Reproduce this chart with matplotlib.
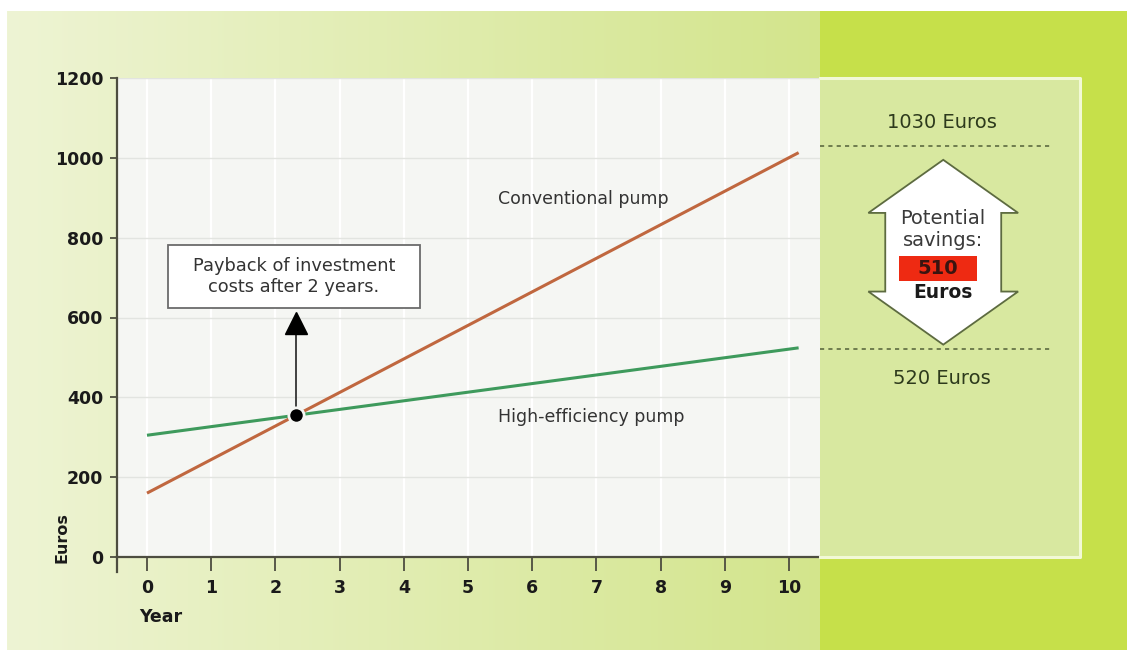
"""
Running costs: conventional vs high-efficiency circulation pump
"""

import numpy as np
import matplotlib.pyplot as plt
from matplotlib.patches import Rectangle, Polygon

plt.rcParams['font.family'] = ['DejaVu Sans']

# Cumulative cost (Euros) over the years, straight lines read at both ends
years = [0, 10.15]
conventional = [160, 1013]
high_efficiency = [305, 524]

year_ticks = list(range(0, 11))
euro_ticks = list(range(0, 1201, 200))

# Figures quoted on the right-hand panel
cost_conventional_10y = 1030
cost_efficient_10y = 520
savings = cost_conventional_10y - cost_efficient_10y

W, H = 1127, 653
fig = plt.figure(figsize=(W / 100, H / 100), dpi=100)

# --- background: pale green gradient, lime band on the right, white margins
bg = fig.add_axes([0, 0, 1, 1], zorder=-10)
img = np.ones((H, W, 3))
left_col = np.array([238, 244, 212]) / 255
right_col = np.array([211, 229, 140]) / 255
lime = np.array([198, 224, 74]) / 255
t = np.clip((np.arange(W) - 7) / (820 - 7), 0, 1)[:, None]
grad = left_col * (1 - t) + right_col * t
img[:, :, :] = grad[None, :, :]
img[:, 820:, :] = lime
img[:11, :, :] = 1
img[650:, :, :] = 1
img[:, :7, :] = 1
bg.imshow(img, extent=(0, W, H, 0), aspect='auto', interpolation='bilinear')
bg.set_xlim(0, W)
bg.set_ylim(H, 0)
bg.axis('off')

# --- main chart
ax = fig.add_axes([117 / W, (H - 557) / H, (820 - 117) / W, (557 - 78) / H])
ax.set_facecolor('#f5f6f3')
ax.set_xlim(-0.467, 10.483)
ax.set_ylim(0, 1200)

ax.set_xticks(year_ticks)
ax.set_yticks(euro_ticks)
for lab in ax.get_xticklabels() + ax.get_yticklabels():
    lab.set_fontweight('bold')
ax.tick_params(axis='y', direction='out', length=5, width=1.3, pad=5,
               labelsize=12.5, colors='#4d4d40', labelcolor='#1a1a1a')
ax.tick_params(axis='x', direction='out', length=10, width=1.3, pad=6,
               labelsize=12.5, colors='#4d4d40', labelcolor='#1a1a1a')

for side in ['top', 'right']:
    ax.spines[side].set_visible(False)
for side in ['left', 'bottom']:
    ax.spines[side].set_color('#4d4d40')
    ax.spines[side].set_linewidth(1.6)
# y axis runs a little below zero
ax.plot([0, 0], [0, -15 / 479], transform=ax.transAxes, color='#4d4d40',
        lw=1.6, clip_on=False)

ax.grid(axis='y', color='#e2e4e0', lw=1.0)
ax.grid(axis='x', color='white', lw=1.6)
ax.set_axisbelow(True)

ax.plot(years, conventional, color='#c0673f', lw=2.2, solid_capstyle='butt', zorder=3)
ax.plot(years, high_efficiency, color='#3e9a5c', lw=2.2, solid_capstyle='butt', zorder=3)

ax.text(6.79, 896, 'Conventional pump', ha='center', va='center',
        fontsize=12.5, color='#333333')
ax.text(6.92, 350, 'High-efficiency pump', ha='center', va='center',
        fontsize=12.5, color='#333333')

# payback point = where both cost lines cross
k_c = (conventional[1] - conventional[0]) / (years[1] - years[0])
k_e = (high_efficiency[1] - high_efficiency[0]) / (years[1] - years[0])
x_pay = (high_efficiency[0] - conventional[0]) / (k_c - k_e)
y_pay = conventional[0] + k_c * x_pay

ax.plot([x_pay, x_pay], [y_pay, 560], color='#333333', lw=1.3, zorder=4)
ax.plot(x_pay, 586, marker='^', markersize=16, color='black', zorder=5)
ax.plot(x_pay, y_pay, 'o', markersize=11, color='black',
        markeredgecolor='#f5f6f3', markeredgewidth=2, zorder=6)

ax.add_patch(Rectangle((0.327, 623), 4.25 - 0.327, 781 - 623, facecolor='white',
                       edgecolor='#6b6b6b', lw=1.3, zorder=5))
ax.text(2.29, 702, 'Payback of investment\ncosts after 2 years.', ha='center',
        va='center', fontsize=12.8, color='#333333', linespacing=1.2, zorder=6)

fig.text(161 / W, 1 - 617 / H, 'Year', ha='center', va='center',
         fontsize=12.5, fontweight='bold', color='#1a1a1a')
fig.text(62 / W, 1 - 538 / H, 'Euros', ha='center', va='center', rotation=90,
         fontsize=11.5, fontweight='bold', color='#1a1a1a')

# --- right-hand savings panel, same euro scale as the chart
ax2 = fig.add_axes([820 / W, (H - 557) / H, (1080 - 820) / W, (557 - 78) / H])
ax2.set_xlim(0, 1)
ax2.set_ylim(0, 1200)
ax2.axis('off')
ax2.add_patch(Rectangle((0, 0), 1, 1200, facecolor='#d8e8a0', edgecolor='none'))
ax2.plot([0, 1, 1, 0], [1200, 1200, 0, 0], color='#f2f9d6', lw=2.2,
         clip_on=False)

for val in (cost_conventional_10y, cost_efficient_10y):
    ax2.plot([0, 0.885], [val, val], color='#5d6b40', lw=1.2,
             dashes=(2.5, 2.5), zorder=3)

ax2.annotate(f'{cost_conventional_10y} Euros', (0.47, cost_conventional_10y),
             xytext=(0, 17), textcoords='offset points', ha='center', va='center',
             fontsize=14, color='#2d3a1c')
ax2.annotate(f'{cost_efficient_10y} Euros', (0.47, cost_efficient_10y),
             xytext=(0, -21), textcoords='offset points', ha='center', va='center',
             fontsize=14, color='#2d3a1c')

# double-headed block arrow between the two cost levels
top = cost_conventional_10y - 35
bot = cost_efficient_10y + 12
head = 133
cx, hw, sw = 0.474, 0.288, 0.223
arrow = [(cx, top), (cx + hw, top - head), (cx + sw, top - head),
         (cx + sw, bot + head), (cx + hw, bot + head), (cx, bot),
         (cx - hw, bot + head), (cx - sw, bot + head), (cx - sw, top - head),
         (cx - hw, top - head)]
ax2.add_patch(Polygon(arrow, closed=True, facecolor='white',
                      edgecolor='#5d6b40', lw=1.3, zorder=4))

ax2.text(cx, 848, 'Potential', ha='center', va='center', fontsize=14,
         color='#3a3a3a', zorder=5)
ax2.text(cx, 793, 'savings:', ha='center', va='center', fontsize=14,
         color='#3a3a3a', zorder=5)
ax2.add_patch(Rectangle((0.304, 691), 0.30, 63, facecolor='#ee2a12',
                        edgecolor='none', zorder=5))
ax2.text(cx - 0.02, 722, f'{savings}', ha='center', va='center', fontsize=14,
         fontweight='bold', color='#3a1410', zorder=6)
ax2.text(cx, 663, 'Euros', ha='center', va='center', fontsize=13.5,
         fontweight='bold', color='#1a1a1a', zorder=5)

plt.savefig('out.png', dpi=100)
